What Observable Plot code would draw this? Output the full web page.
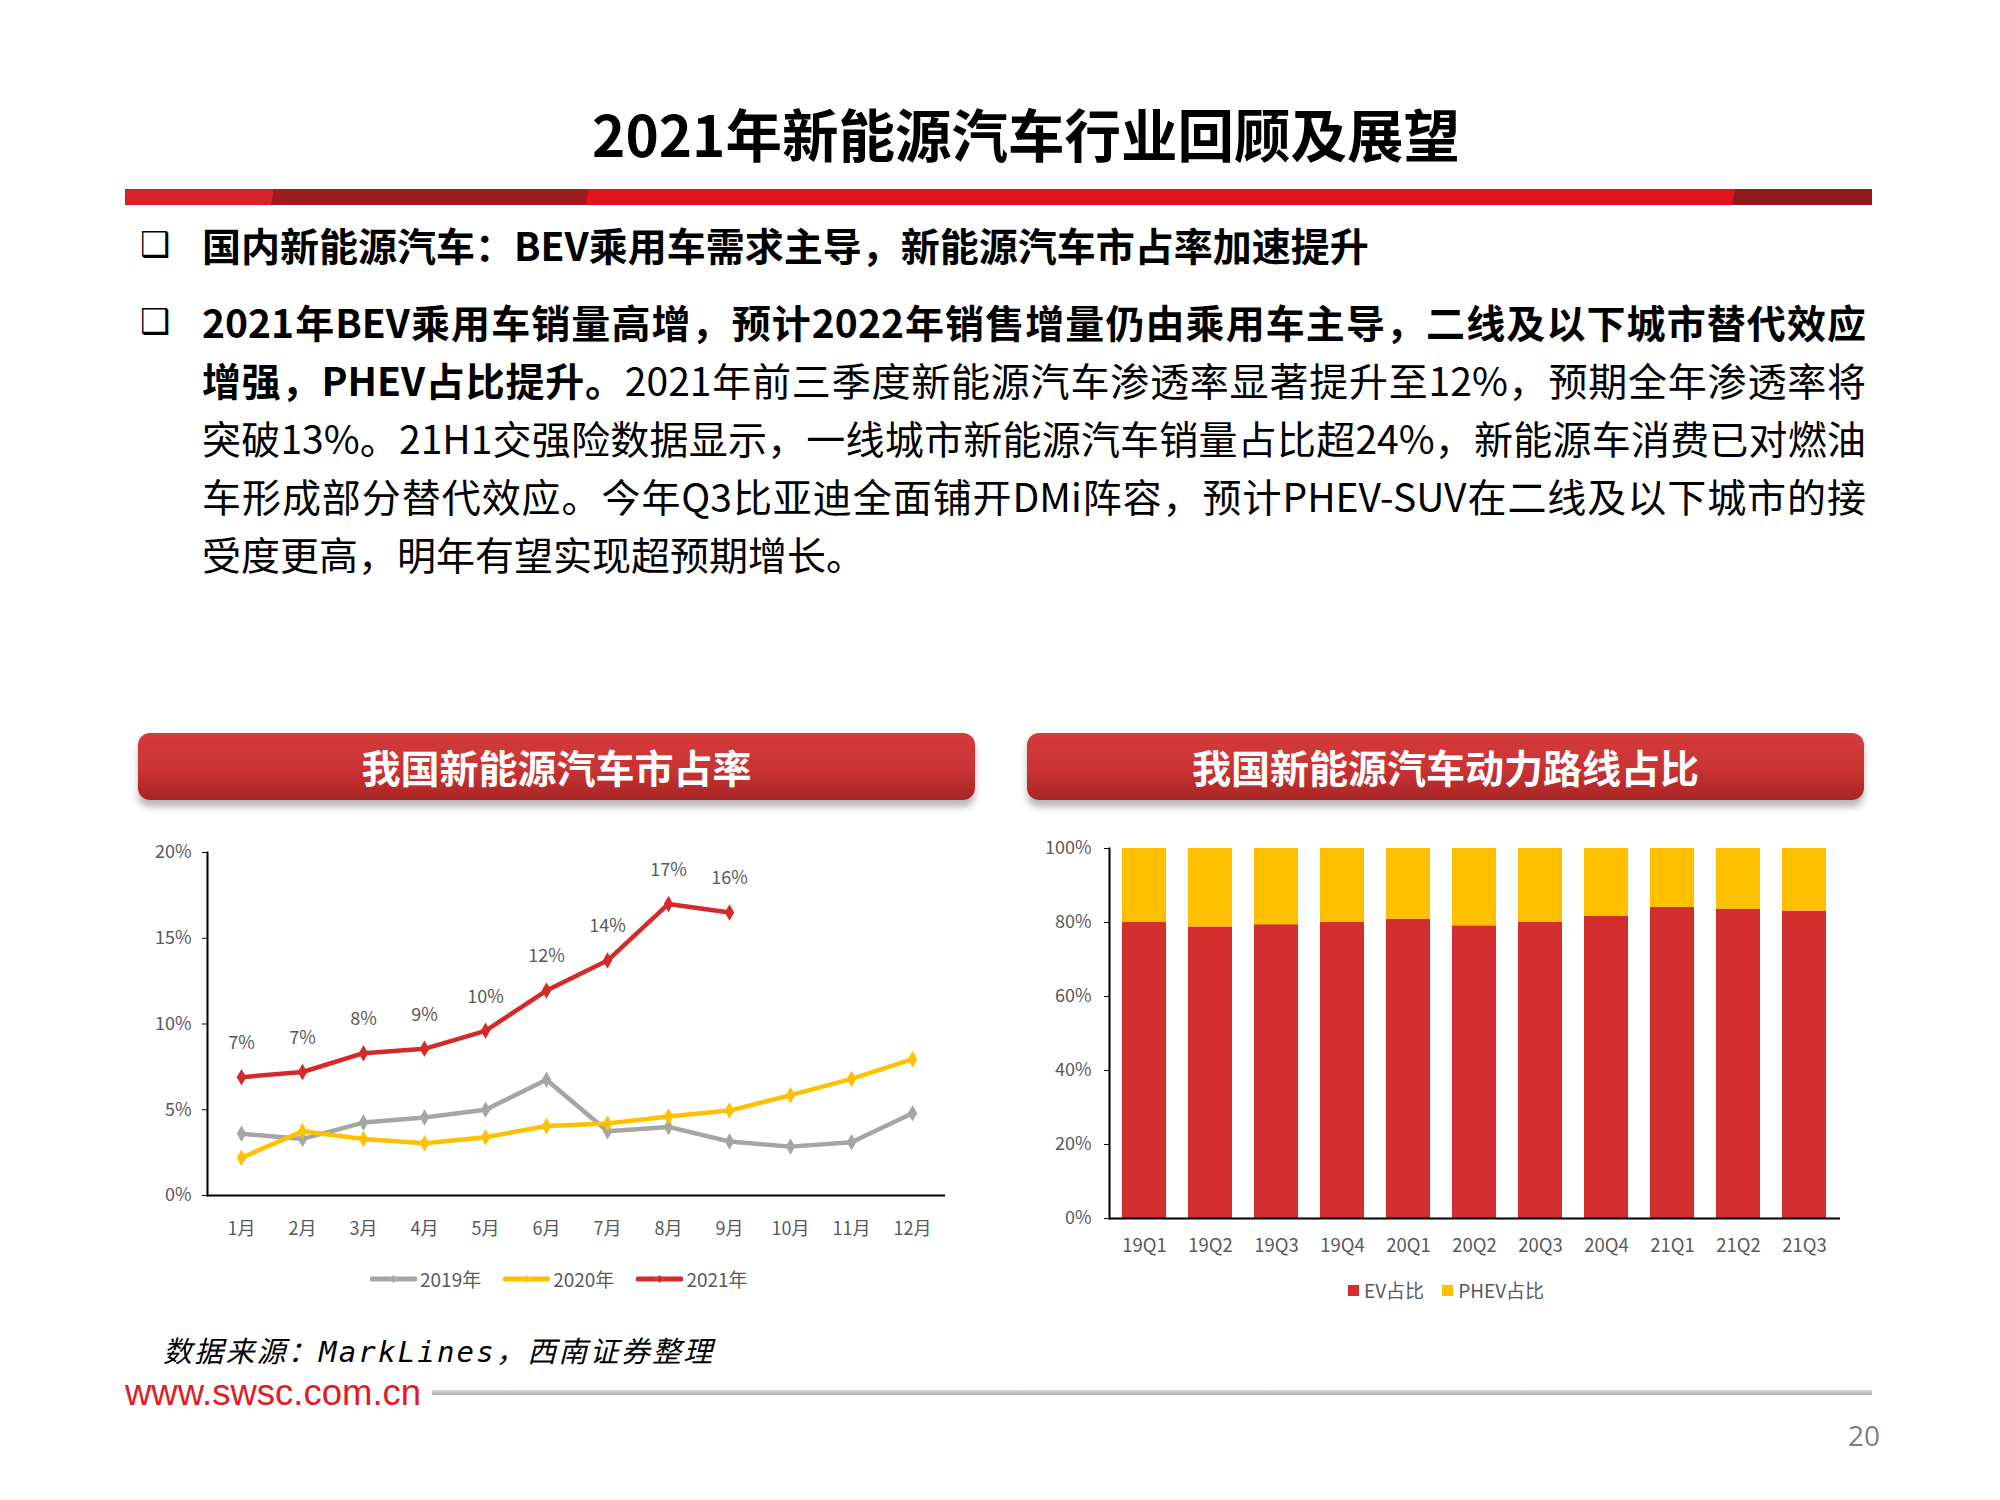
<!DOCTYPE html>
<html><head><meta charset="utf-8">
<script src="https://cdn.jsdelivr.net/npm/d3@7"></script>
<script src="https://cdn.jsdelivr.net/npm/@observablehq/plot@0.6"></script>
<style>
html,body{margin:0;padding:0;background:#fff;}
body{width:2000px;height:1500px;position:relative;overflow:hidden;font-family:"Noto Sans CJK SC","Noto Sans",sans-serif;color:#000;}
.abs{position:absolute;white-space:nowrap;}
#title{left:0;width:2052px;top:92px;line-height:80px;text-align:center;font-size:56.5px;font-weight:700;}
#redbar{left:125px;width:1747px;top:189px;height:16px;
 background:linear-gradient(100deg,#d8222a 0 8.5%,#9c1d1d 8.5% 26.5%,#e3131c 26.5% 92%,#8e1c1c 92% 100%);}
.bullet{font-family:"DejaVu Sans",sans-serif;font-size:34px;left:140px;line-height:58px;font-weight:700;}
.tl{left:202px;font-size:39px;line-height:58px;}
.jl{left:202px;width:1664px;font-size:39px;line-height:58px;text-align:justify;text-align-last:justify;white-space:normal;}
.tl b,.jl b{font-weight:700;}
.banner{top:733px;height:67px;width:837px;border-radius:12px;
 background:linear-gradient(#d53c3c 0%,#c93333 55%,#a82525 100%);
 box-shadow:0 7px 7px rgba(0,0,0,0.28);color:#fff;font-size:39px;font-weight:700;text-align:center;line-height:67px;}
.chart{position:absolute;}
.leg{position:absolute;font-size:19px;color:#595959;display:flex;align-items:center;white-space:nowrap;line-height:24px;}
.leg .it{display:flex;align-items:center;}
#source{left:163px;top:1335px;line-height:34px;font-family:"DejaVu Sans Mono","Noto Sans CJK SC",monospace;font-style:italic;font-size:29px;letter-spacing:2.2px;color:#000;}
#www{left:125px;top:1375px;line-height:36px;font-family:"Liberation Sans",Arial,sans-serif;font-size:36.5px;color:#e21b25;}
#grayline{left:432px;width:1440px;top:1390px;height:5px;background:linear-gradient(#d9d9d9,#b0b0b0);}
#page{left:1848px;top:1416px;font-size:28px;color:#7f7f7f;font-family:"Open Sans",sans-serif;}
</style></head><body>
<div id="title" class="abs">2021年新能源汽车行业回顾及展望</div>
<div id="redbar" class="abs"></div>

<div class="abs bullet" style="top:215px">❑</div>
<div class="abs tl" style="top:215px"><b>国内新能源汽车：BEV乘用车需求主导，新能源汽车市占率加速提升</b></div>

<div class="abs bullet" style="top:292px">❑</div>
<div class="abs jl" style="top:292px"><b>2021年BEV乘用车销量高增，预计2022年销售增量仍由乘用车主导，二线及以下城市替代效应</b></div>
<div class="abs jl" style="top:350px"><b>增强，PHEV占比提升。</b>2021年前三季度新能源汽车渗透率显著提升至12%，预期全年渗透率将</div>
<div class="abs jl" style="top:408px">突破13%。21H1交强险数据显示，一线城市新能源汽车销量占比超24%，新能源车消费已对燃油</div>
<div class="abs jl" style="top:466px">车形成部分替代效应。今年Q3比亚迪全面铺开DMi阵容，预计PHEV-SUV在二线及以下城市的接</div>
<div class="abs tl" style="top:524px">受度更高，明年有望实现超预期增长。</div>

<div class="abs banner" style="left:138px">我国新能源汽车市占率</div>
<div class="abs banner" style="left:1027px">我国新能源汽车动力路线占比</div>

<div id="leftChart" class="chart" style="left:130px;top:830px"></div>
<div id="leftLegend" class="leg" style="left:370px;top:1267px"></div>
<div id="rightChart" class="chart" style="left:1020px;top:830px"></div>
<div id="rightLegend" class="leg" style="left:1348px;top:1278px"></div>

<div id="source" class="abs">数据来源：MarkLines，西南证券整理</div>
<div id="www" class="abs">www.swsc.com.cn</div>
<div id="grayline" class="abs"></div>
<div id="page" class="abs">20</div>

<script>
// ---- Left chart data: NEV market share by month (%) ----
const months = ["1月","2月","3月","4月","5月","6月","7月","8月","9月","10月","11月","12月"];
const years = ["2019年","2020年","2021年"];
const yearColors = ["#a5a5a5","#ffc000","#d42a2a"];
const share2019 = [3.6,3.3,4.25,4.55,5.0,6.75,3.75,4.0,3.15,2.85,3.1,4.8];
const share2020 = [2.2,3.75,3.3,3.05,3.4,4.05,4.2,4.6,4.95,5.85,6.8,7.95];
const share2021 = [6.9,7.2,8.3,8.55,9.6,11.95,13.7,17.0,16.5];
const labels2021 = ["7%","7%","8%","9%","10%","12%","14%","17%","16%"];
const yTicksLeft = [0,5,10,15,20];

// ---- Right chart data: powertrain share by quarter (%) ----
const quarters = ["19Q1","19Q2","19Q3","19Q4","20Q1","20Q2","20Q3","20Q4","21Q1","21Q2","21Q3"];
const types = ["EV占比","PHEV占比"];
const typeColors = ["#d22e2e","#ffc000"];
const evShare   = [80.0,78.8,79.4,80.0,80.9,79.1,80.0,81.7,84.1,83.6,83.1];
const phevShare = [20.0,21.2,20.6,20.0,19.1,20.9,20.0,18.3,15.9,16.4,16.9];
const yTicksRight = [0,20,40,60,80,100];

const FONT = '"Noto Sans CJK SC","Noto Sans",sans-serif';
const TXT = "#595959";

function rowsOf(vals, year){ return vals.map((v,i)=>({month:months[i], year, v})); }
const r2019 = rowsOf(share2019, years[0]);
const r2020 = rowsOf(share2020, years[1]);
const r2021 = share2021.map((v,i)=>({month:months[i], year:years[2], v, label:labels2021[i]}));

const left = Plot.plot({
  width: 830, height: 430,
  marginLeft: 77, marginRight: 15, marginTop: 22, marginBottom: 65,
  style: {fontFamily: FONT, fontSize: "18px", background: "transparent", overflow: "visible"},
  x: {type: "point", domain: months, padding: 0.5, axis: null},
  y: {domain: [0, 20], axis: null},
  color: {domain: years, range: yearColors},
  marks: [
    Plot.axisX({tickSize: 0, tickPadding: 27, fill: TXT, label: null, fontSize: 18}),
    Plot.axisY({ticks: yTicksLeft, tickFormat: d => d + "%", tickSize: 5, tickPadding: 11, stroke: "#000", fill: TXT, label: null, fontSize: 18}),
    Plot.line(r2019, {x: "month", y: "v", stroke: "year", strokeWidth: 4.5}),
    Plot.dot(r2019, {x: "month", y: "v", fill: "year", symbol: "diamond", r: 5}),
    Plot.line(r2020, {x: "month", y: "v", stroke: "year", strokeWidth: 4.5}),
    Plot.dot(r2020, {x: "month", y: "v", fill: "year", symbol: "diamond", r: 5}),
    Plot.line(r2021, {x: "month", y: "v", stroke: "year", strokeWidth: 4.5}),
    Plot.dot(r2021, {x: "month", y: "v", fill: "year", symbol: "diamond", r: 5}),
    Plot.text(r2021, {x: "month", y: "v", text: "label", dy: -34, fill: TXT, fontSize: 18}),
    Plot.frame({anchor: "left", stroke: "#000", strokeWidth: 2}),
    Plot.ruleY([0], {stroke: "#000", strokeWidth: 2})
  ]
});
document.getElementById("leftChart").appendChild(left);

// left legend (line swatches with diamond markers)
const ll = document.getElementById("leftLegend");
years.forEach((y, i) => {
  const it = document.createElement("div");
  it.className = "it";
  it.style.marginRight = "22px";
  it.innerHTML = `<svg width="47" height="14" style="margin-right:3px"><line x1="2" y1="7" x2="45" y2="7" stroke="${yearColors[i]}" stroke-width="5" stroke-linecap="round"/><path d="M23.5 3 L27.5 7 L23.5 11 L19.5 7Z" fill="${yearColors[i]}" stroke="#fff" stroke-opacity="0.35" stroke-width="0.6"/></svg><span>${y}</span>`;
  ll.appendChild(it);
});

const barRows = [];
quarters.forEach((q, i) => barRows.push({q, type: types[0], v: evShare[i]}));
quarters.forEach((q, i) => barRows.push({q, type: types[1], v: phevShare[i]}));

const right = Plot.plot({
  width: 850, height: 440,
  marginLeft: 89, marginRight: 30, marginTop: 18, marginBottom: 52,
  style: {fontFamily: FONT, fontSize: "18px", background: "transparent", overflow: "visible"},
  x: {domain: quarters, paddingInner: 0.33, paddingOuter: 0.2, axis: null},
  y: {domain: [0, 100], axis: null},
  color: {domain: types, range: typeColors},
  marks: [
    Plot.barY(barRows, {x: "q", y: "v", fill: "type"}),
    Plot.axisX({tickSize: 0, tickPadding: 20, fill: TXT, label: null, fontSize: 18.5}),
    Plot.axisY({ticks: yTicksRight, tickFormat: d => d + "%", tickSize: 5, tickPadding: 13, stroke: "#000", fill: TXT, label: null, fontSize: 18}),
    Plot.frame({anchor: "left", stroke: "#000", strokeWidth: 2}),
    Plot.ruleY([0], {stroke: "#000", strokeWidth: 2})
  ]
});
document.getElementById("rightChart").appendChild(right);

const rl = document.getElementById("rightLegend");
types.forEach((t, i) => {
  const it = document.createElement("div");
  it.className = "it";
  it.style.marginRight = "18px";
  it.innerHTML = `<svg width="12" height="12" style="margin-right:4px"><rect width="11" height="11" y="1" fill="${typeColors[i]}"/></svg><span>${t}</span>`;
  rl.appendChild(it);
});
</script>
</body></html>
